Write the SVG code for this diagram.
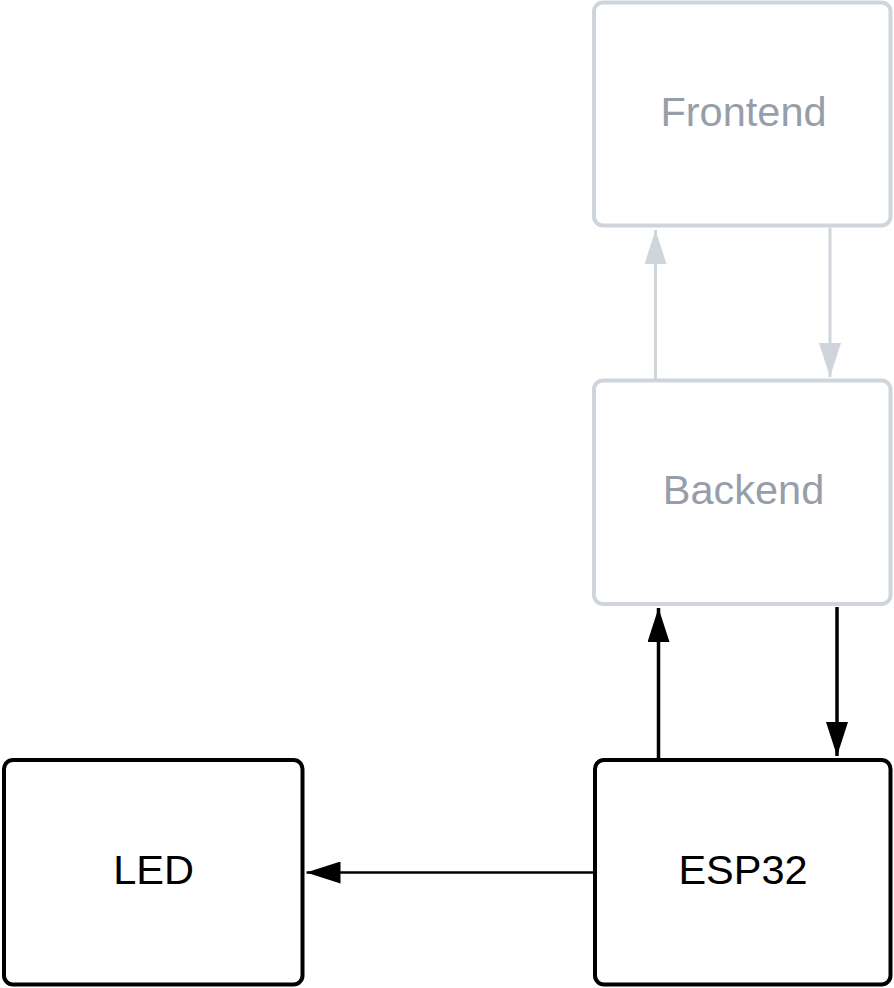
<svg xmlns="http://www.w3.org/2000/svg" width="894" height="988" viewBox="0 0 894 988">
<style>
.box{fill:#ffffff;stroke-width:4}
.dim{stroke:#d0d5dc}
.dark{stroke:#000000}
.lbl{font-family:"Liberation Sans",Arial,sans-serif;font-size:41.5px;text-anchor:middle}
.lbl-dim{fill:#979ea9}
.lbl-dark{fill:#000000}
.c-dim{stroke:#d0d5dc;stroke-width:3;fill:none}
.c-dark{stroke:#000000;stroke-width:3.5;fill:none}
.c-thin{stroke:#000000;stroke-width:2.5;fill:none}
</style>
<defs>
<marker id="ahDim" markerUnits="userSpaceOnUse" markerWidth="34" markerHeight="22" refX="34" refY="11" viewBox="0 0 34 22" orient="auto">
<path d="M0,0 L34,11 L0,22 Z" fill="#d0d5dc"/>
</marker>
<marker id="ahDark" markerUnits="userSpaceOnUse" markerWidth="34" markerHeight="22" refX="34" refY="11" viewBox="0 0 34 22" orient="auto">
<path d="M0,0 L34,11 L0,22 Z" fill="#000000"/>
</marker>
</defs>
<rect width="894" height="988" fill="#ffffff"/>
<g id="connectors">
<line class="c-dim" x1="655.5" y1="379" x2="655.5" y2="230" marker-end="url(#ahDim)"/>
<line class="c-dim" x1="830" y1="228" x2="830" y2="377" marker-end="url(#ahDim)"/>
<line class="c-dark" x1="658.5" y1="758" x2="658.5" y2="608" marker-end="url(#ahDark)"/>
<line class="c-dark" x1="837" y1="607" x2="837" y2="756" marker-end="url(#ahDark)"/>
<line class="c-thin" x1="593" y1="872.5" x2="306.5" y2="872.5" marker-end="url(#ahDark)"/>
</g>
<g id="frontend">
<rect class="box dim" x="594" y="2.5" width="296.5" height="223" rx="9"/>
<text class="lbl lbl-dim" x="743.5" y="125.5">Frontend</text>
</g>
<g id="backend">
<rect class="box dim" x="594" y="380.5" width="296.5" height="223.5" rx="9"/>
<text class="lbl lbl-dim" x="743.5" y="504">Backend</text>
</g>
<g id="esp32">
<rect class="box dark" x="595" y="760" width="295.5" height="224.5" rx="9"/>
<text class="lbl lbl-dark" x="743" y="884">ESP32</text>
</g>
<g id="led">
<rect class="box dark" x="4" y="760" width="298.5" height="224.5" rx="9"/>
<text class="lbl lbl-dark" x="153.5" y="884">LED</text>
</g>
</svg>
